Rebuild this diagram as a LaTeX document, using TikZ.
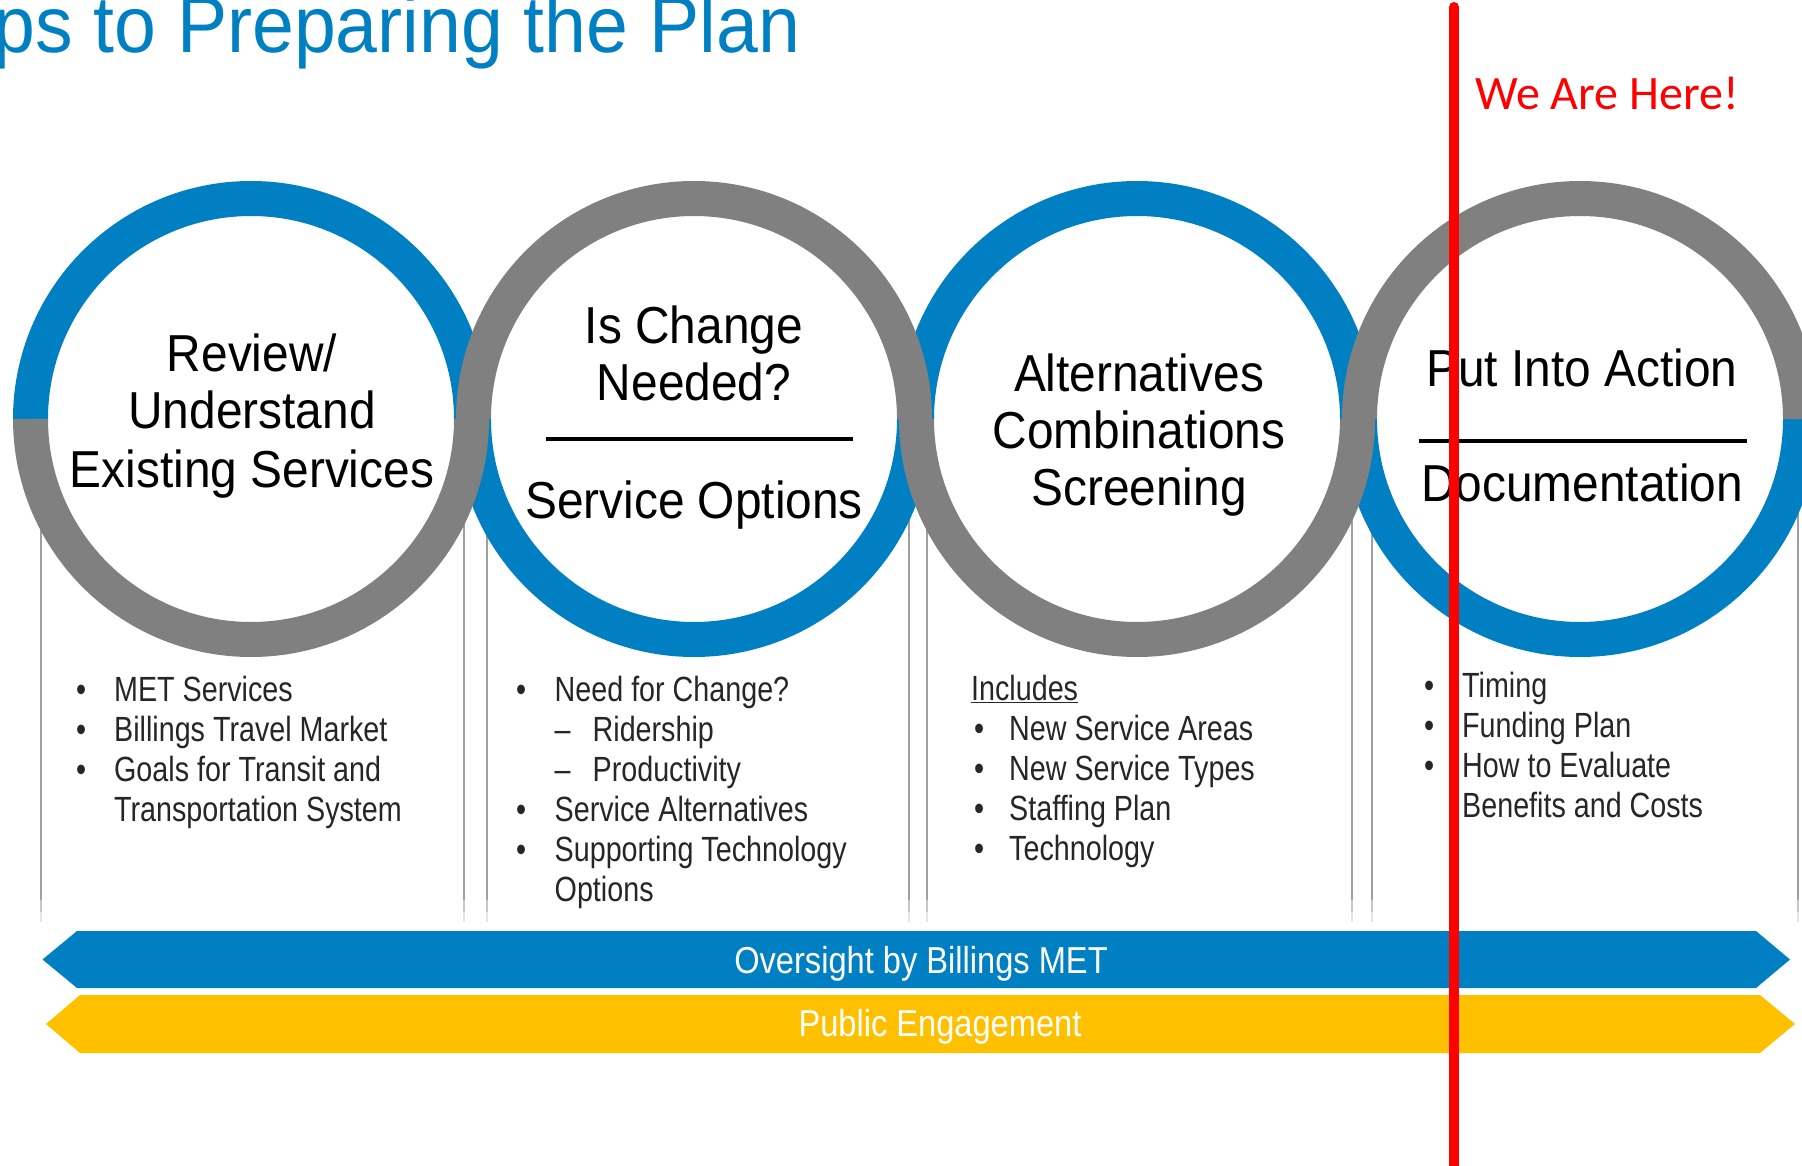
\documentclass[tikz,border=0pt]{standalone}
\usepackage{fontspec}
\setmainfont{Liberation Sans}
\newfontfamily\titlefont[FakeStretch=0.94]{Liberation Sans}
\newfontfamily\circfont[FakeStretch=0.92]{Liberation Sans}
\newfontfamily\listfont[FakeStretch=0.82]{Liberation Sans}
\newfontfamily\banfont[FakeStretch=0.87]{Liberation Sans}
\newfontfamily\herefont{Carlito}
\definecolor{cblue}{HTML}{0080C3}
\definecolor{cgrey}{HTML}{808080}
\definecolor{cyellow}{HTML}{FFC000}
\definecolor{cred}{HTML}{FF0000}
\begin{document}
\begin{tikzpicture}[x=1pt,y=-1pt,
  ringblue/.style={draw=cblue,line width=35pt},
  ringgrey/.style={draw=cgrey,line width=35pt},
  colline/.style={draw=gray!75,line width=2.2pt},
  divline/.style={draw=black,line width=4pt},
  circtext/.style={anchor=base,inner sep=0pt,text=black,font=\circfont\fontsize{52}{58}\selectfont},
  listnode/.style={anchor=base west,inner sep=0pt,text=black!85,font=\listfont\fontsize{35}{40}\selectfont},
  bantext/.style={anchor=base,inner sep=0pt,text=white,font=\banfont\fontsize{37.5}{42}\selectfont},
  redline/.style={draw=cred,line width=10pt,line cap=round}]
\useasboundingbox (0,0) rectangle (1802,1166);
\clip (0,0) rectangle (1802,1166);

% title
\node[anchor=base west,inner sep=0pt,text=cblue,font=\titlefont\fontsize{80}{86}\selectfont] (title) at (-7,53) {ps to Preparing the Plan};

% column panel borders
\foreach \xx in {41,464,487,909,927,1352,1372,1798}{
  \draw[colline] (\xx,430) -- (\xx,900);
  \draw[draw=gray!45,line width=2.2pt] (\xx,900) -- (\xx,912);
  \draw[draw=gray!20,line width=2.2pt] (\xx,912) -- (\xx,922);
}

% circles
\coordinate (c1) at (251,419);
\coordinate (c2) at (694,419);
\coordinate (c3) at (1137,419);
\coordinate (c4) at (1580,419);
\foreach \cc in {c1,c2,c3,c4} \fill[white] (\cc) circle[radius=203];
% blue halves
\draw[ringblue] ([xshift=-220.5pt]c1) arc[start angle=180,end angle=360,radius=220.5];
\draw[ringblue] ([xshift=-220.5pt]c2) arc[start angle=180,end angle=0,radius=220.5];
\draw[ringblue] ([xshift=-220.5pt]c3) arc[start angle=180,end angle=360,radius=220.5];
\draw[ringblue] ([xshift=-220.5pt]c4) arc[start angle=180,end angle=0,radius=220.5];
% grey halves
\draw[ringgrey] ([xshift=-220.5pt]c1) arc[start angle=180,end angle=0,radius=220.5];
\draw[ringgrey] ([xshift=-220.5pt]c2) arc[start angle=180,end angle=360,radius=220.5];
\draw[ringgrey] ([xshift=-220.5pt]c3) arc[start angle=180,end angle=0,radius=220.5];
\draw[ringgrey] ([xshift=-220.5pt]c4) arc[start angle=180,end angle=360,radius=220.5];

% circle texts
\node[circtext] (t1a) at (252,371.5) {Review/};
\node[circtext] (t1b) at (252,428.5) {Understand};
\node[circtext] (t1c) at (252,487) {Existing Services};

\node[circtext] (t2a) at (694,343) {Is Change};
\node[circtext] (t2b) at (694,400.5) {Needed?};
\coordinate (d2l) at (546,438.5);
\coordinate (d2r) at (853,438.5);
\draw[divline] (d2l) -- (d2r);
\node[circtext] (t2c) at (694,518.5) {Service Options};

\node[circtext] (t3a) at (1139,391) {Alternatives};
\node[circtext] (t3b) at (1139,448) {Combinations};
\node[circtext] (t3c) at (1139,505) {Screening};

\node[circtext] (t4a) at (1582,386.5) {Put Into Action};
\coordinate (d4l) at (1419,440.5);
\coordinate (d4r) at (1747,440.5);
\draw[divline] (d4l) -- (d4r);
\node[circtext] (t4b) at (1582,501.5) {Documentation};

% bullet lists
\node[listnode] (l1) at (76,701.7) {\begin{tabular}[t]{@{}p{38pt}@{}l@{}}
•&MET Services\\
•&Billings Travel Market\\
•&Goals for Transit and\\
&Transportation System
\end{tabular}};

\node[listnode] (l2) at (516,701.7) {\begin{tabular}[t]{@{}p{38.5pt}@{}l@{}}
•&Need for Change?\\
&\makebox[38pt][l]{–}Ridership\\
&\makebox[38pt][l]{–}Productivity\\
•&Service Alternatives\\
•&Supporting Technology\\
&Options
\end{tabular}};

\node[listnode] (l3) at (971,700) {\begin{tabular}[t]{@{}p{38pt}@{}l@{}}
\multicolumn{2}{@{}l@{}}{\underline{Includes}}\\
\hspace{3pt}•&New Service Areas\\
\hspace{3pt}•&New Service Types\\
\hspace{3pt}•&Staffing Plan\\
\hspace{3pt}•&Technology
\end{tabular}};

\node[listnode] (l4) at (1424,697) {\begin{tabular}[t]{@{}p{38pt}@{}l@{}}
•&Timing\\
•&Funding Plan\\
•&How to Evaluate\\
&Benefits and Costs
\end{tabular}};

% banners
\fill[cblue] (42.5,959.5) -- (77,931) -- (1756,931) -- (1790,959.5) -- (1756,988) -- (77,988) -- cycle;
\node[bantext] (ban1) at (921,973) {Oversight by Billings MET};
\fill[cyellow] (46,1024) -- (80,995) -- (1760,995) -- (1795,1024) -- (1760,1053) -- (80,1053) -- cycle;
\node[bantext] (ban2) at (940,1036.5) {Public Engagement};

% we are here
\coordinate (rtop) at (1454,7);
\coordinate (rbot) at (1454,1180);
\draw[redline] (rtop) -- (rbot);
\node[anchor=base west,inner sep=0pt,text=cred,font=\herefont\fontsize{48}{56}\selectfont] (here) at (1475,110) {We Are Here!};
\end{tikzpicture}
\end{document}
